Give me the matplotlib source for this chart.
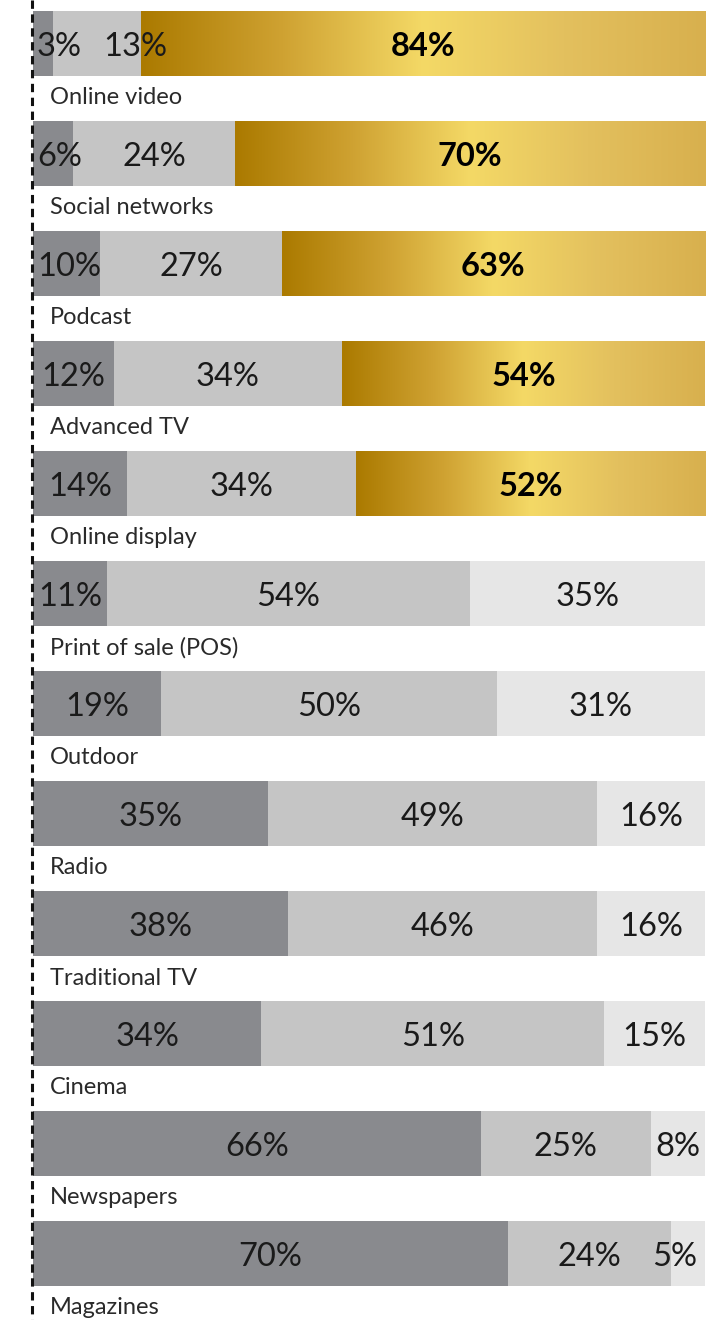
import matplotlib
matplotlib.use("Agg")
import matplotlib.pyplot as plt
import numpy as np
from matplotlib.colors import LinearSegmentedColormap
from matplotlib.transforms import offset_copy

plt.rcParams['font.family'] = ['Lato', 'DejaVu Sans']
plt.rcParams['lines.scale_dashes'] = False

# Share of respondents per channel: decrease / unchanged / increase
channels = ["Online video", "Social networks", "Podcast", "Advanced TV",
            "Online display", "Print of sale (POS)", "Outdoor", "Radio",
            "Traditional TV", "Cinema", "Newspapers", "Magazines"]
decrease = [3, 6, 10, 12, 14, 11, 19, 35, 38, 34, 66, 70]
unchanged = [13, 24, 27, 34, 34, 54, 50, 49, 46, 51, 25, 24]
increase = [84, 70, 63, 54, 52, 35, 31, 16, 16, 15, 8, 5]
highlighted = [True, True, True, True, True,
               False, False, False, False, False, False, False]

W, H, DPI = 722, 1320, 100
fig = plt.figure(figsize=(W / DPI, H / DPI), dpi=DPI)
ax = fig.add_axes([0, 0, 1, 1])
ax.set_axis_off()

px_per_unit = 6.72
x_left = 33
xlim = (-x_left / px_per_unit, (W - x_left) / px_per_unit)
row_px = 110
first_center = 43.5
ylim = ((H - first_center) / row_px, -first_center / row_px)
bar_h = 65 / row_px
label_dy = (98 - first_center) / row_px
text_dy = 3 / row_px

C_DEC = "#898a8e"
C_SAME = "#c5c5c5"
C_INC = "#e6e6e6"
gold = LinearSegmentedColormap.from_list(
    "gold", [(0.0, "#ab7a00"), (0.25, "#cfa232"), (0.5, "#f4d966"),
             (0.75, "#e3c05e"), (1.0, "#d8b04e")])
grad = np.linspace(0, 1, 256).reshape(1, -1)

fig.canvas.draw()
renderer = fig.canvas.get_renderer()

num_kw = dict(fontsize=23.5, color="#1a1a1a", va="center", fontweight="normal")
pad_px = 4


def place_label(text, x0, x1, y, **kw):
    """Centre a value label in its segment, keeping it inside the bar."""
    t = ax.text((x0 + x1) / 2, y, text, ha="center", **kw)
    bb = t.get_window_extent(renderer)
    w_units = bb.width / px_per_unit
    seg_w = x1 - x0
    if w_units + 2 * pad_px / px_per_unit > seg_w:
        if x0 <= 0.01:
            t.set_x(x0 + pad_px / px_per_unit)
            t.set_ha("left")
        elif x1 >= 99.99:
            t.set_x(x1 - 8 / px_per_unit)
            t.set_ha("right")
    return t


for i, name in enumerate(channels):
    vals = [decrease[i], unchanged[i], increase[i]]
    total = sum(vals)
    shares = [v / total * 100 for v in vals]
    starts = np.concatenate([[0], np.cumsum(shares)[:-1]])
    ax.barh(i, shares[0], left=starts[0], height=bar_h, color=C_DEC, lw=0)
    ax.barh(i, shares[1], left=starts[1], height=bar_h, color=C_SAME, lw=0)
    if highlighted[i]:
        ax.imshow(grad, cmap=gold, aspect="auto", interpolation="bilinear",
                  extent=[starts[2], starts[2] + shares[2],
                          i + bar_h / 2, i - bar_h / 2], zorder=2)
    else:
        ax.barh(i, shares[2], left=starts[2], height=bar_h, color=C_INC, lw=0)

    ty = i + text_dy
    place_label(f"{vals[0]}%", starts[0], starts[0] + shares[0], ty, **num_kw)
    t1 = place_label(f"{vals[1]}%", starts[1], starts[1] + shares[1], ty, **num_kw)
    if i == 0:
        t1.set_transform(offset_copy(ax.transData, fig=fig, x=38, y=0, units="dots"))
    if highlighted[i]:
        ax.text(starts[2] + shares[2] / 2, ty, f"{vals[2]}%", ha="center",
                va="center", fontsize=23.5, fontweight="bold", color="#000000",
                zorder=3)
    else:
        place_label(f"{vals[2]}%", starts[2], 100, ty, **num_kw)

    ax.text(17 / px_per_unit, i + label_dy, name, ha="left", va="center",
            fontsize=17, color="#2a2a2a", fontweight="normal")

# Dashed baseline along the left edge
ax.plot([-1 / px_per_unit] * 2, [ylim[1], ylim[0]], color="#111111",
        lw=2.2, dashes=(6, 4), zorder=4)

ax.set_xlim(*xlim)
ax.set_ylim(*ylim)

fig.savefig("out.png", dpi=DPI, facecolor="white")
